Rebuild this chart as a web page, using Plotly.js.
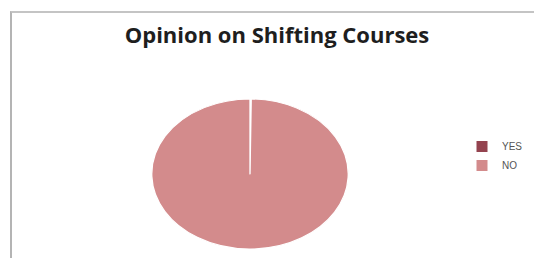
<!DOCTYPE html>
<html>
<head>
<meta charset="utf-8">
<script src="https://cdn.plot.ly/plotly-3.0.1.min.js"></script>
<style>
  html, body { margin: 0; padding: 0; background: #fff; }
  #frame { position: absolute; left: 10px; top: 11px; width: 524px; height: 247px;
           border-left: 2px solid #b4b4b4; border-top: 2px solid #c4c4c4; box-sizing: border-box; }
  #chart { position: absolute; left: 0; top: 0; width: 534px; height: 258px; }
  .pielayer { transform-box: fill-box; transform-origin: center; transform: scaleX(1.31); }
</style>
</head>
<body>
<div id="frame"></div>
<div id="chart"></div>
<script>
const categories = ["YES", "NO"];
const values = [0.2, 99.8];
const colors = ["#94434f", "#d38b8c"];

const W = 534, H = 258;
const cx = 250, cy = 174, r = 75;

const data = [{
  type: "pie",
  labels: categories,
  values: values,
  sort: false,
  direction: "clockwise",
  rotation: 0,
  textinfo: "none",
  hoverinfo: "none",
  marker: { colors: colors, line: { color: "#ffffff", width: 1 } },
  domain: { x: [(cx - r) / W, (cx + r) / W], y: [1 - (cy + r) / H, 1 - (cy - r) / H] }
}];

const layout = {
  width: W, height: H,
  margin: { l: 0, r: 0, t: 0, b: 0 },
  paper_bgcolor: "rgba(0,0,0,0)",
  plot_bgcolor: "rgba(0,0,0,0)",
  title: {
    text: "<b>Opinion on Shifting Courses</b>",
    font: { family: "Open Sans", size: 22, color: "#1e1e1e" },
    x: 277 / W, xanchor: "center", y: 1 - 35 / H, yanchor: "middle"
  },
  showlegend: true,
  legend: {
    x: 462 / W, xanchor: "left", y: 1 - 132 / H, yanchor: "top",
    font: { family: "Liberation Sans", size: 10, color: "#555555" },
    bgcolor: "rgba(0,0,0,0)", itemwidth: 30
  }
};

Plotly.newPlot("chart", data, layout, { staticPlot: true, displayModeBar: false });
</script>
</body>
</html>
